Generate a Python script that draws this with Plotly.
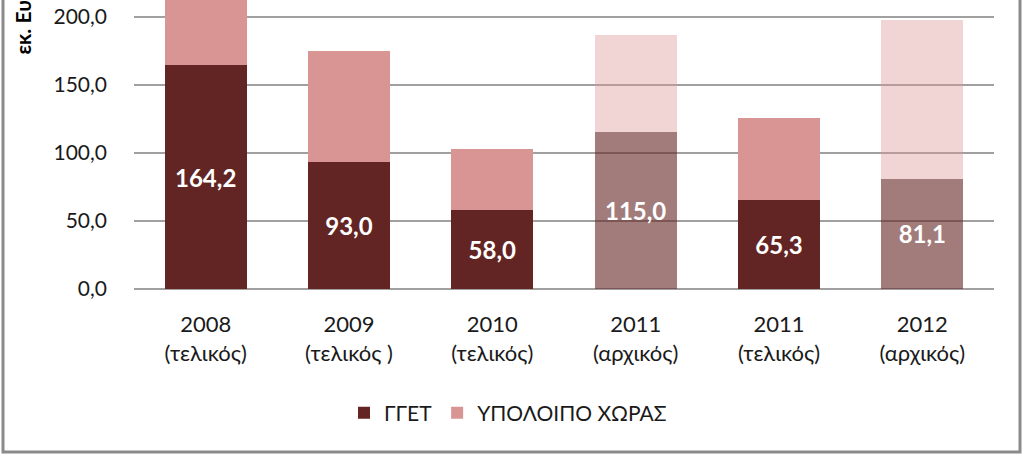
import plotly.graph_objects as go

categories = ["2008<br>(τελικός)", "2009<br>(τελικός )", "2010<br>(τελικός)",
              "2011<br>(αρχικός)", "2011<br>(τελικός)", "2012<br>(αρχικός)"]
gget = [164.2, 93.0, 58.0, 115.0, 65.3, 81.1]
rest = [70.0, 82.0, 45.0, 71.3, 60.6, 116.3]
initial = [False, False, False, True, False, True]  # "αρχικός" bars are faded
series_names = ["ΓΓΕΤ", "ΥΠΟΛΟΙΠΟ ΧΩΡΑΣ"]
y_ticks = [0, 50, 100, 150, 200]
y_title = "εκ. Ευρώ"

FONT = "Lato, 'Open Sans', sans-serif"
c_gget = ["rgba(99,37,35,0.6)" if f else "rgb(99,37,35)" for f in initial]
c_rest = ["rgba(217,149,148,0.4)" if f else "rgb(217,149,148)" for f in initial]

fig = go.Figure()
fig.add_trace(go.Bar(
    x=categories, y=gget, name=series_names[0],
    marker=dict(color=c_gget, line=dict(width=0)),
    texttemplate="%{y:.1f}", textposition="inside", insidetextanchor="middle",
    textfont=dict(family=FONT, size=24, color="white", weight="bold"),
    textangle=0,
))
fig.add_trace(go.Bar(
    x=categories, y=rest, name=series_names[1],
    marker=dict(color=c_rest, line=dict(width=0)),
    hoverinfo="y",
))

L, R, T, B = 134, 30, 0, 167
W, H = 1024, 456
pw = W - L - R
ph = H - T - B

def px_x(p):
    return (p - L) / pw

def px_y(p):
    return (H - B - p) / ph

fig.update_layout(
    barmode="stack", bargap=0.43,
    width=W, height=H,
    margin=dict(l=L, r=R, t=T, b=B, pad=0, autoexpand=False),
    paper_bgcolor="white", plot_bgcolor="white",
    separators=",.",
    font=dict(family=FONT, color="#1a1a1a", size=20),
    showlegend=True,
    legend=dict(orientation="h", x=px_x(508), xanchor="center", y=px_y(413), yanchor="middle",
                font=dict(family=FONT, size=21, color="#1a1a1a"), traceorder="normal",
                itemwidth=30),
    xaxis=dict(showgrid=False, showline=False, ticks="", ticklabelstandoff=20,
               automargin=False,
               tickfont=dict(family=FONT, size=22, color="#1a1a1a"), fixedrange=True),
    yaxis=dict(range=[0, ph / 1.362], tickvals=y_ticks, tickformat=".1f",
               automargin=False,
               showgrid=True, gridcolor="#a0a0a0", gridwidth=2,
               zeroline=True, zerolinecolor="#a0a0a0", zerolinewidth=2,
               showline=False, ticks="", ticklabelstandoff=26,
               tickfont=dict(family=FONT, size=21, color="#1a1a1a")),
    annotations=[dict(text="<b>" + y_title + "</b>", textangle=-90, showarrow=False,
                      xref="paper", yref="paper", x=px_x(22), y=px_y(57),
                      xanchor="center", yanchor="bottom",
                      font=dict(family=FONT, size=21, color="black"))],
    shapes=[dict(type="rect", xref="paper", yref="paper",
                 x0=px_x(3), x1=px_x(1020), y0=px_y(452), y1=1.2,
                 line=dict(color="#8a8a8a", width=3), layer="below")],
)

fig.write_html("out.html", config={"displayModeBar": False},
               post_script="document.body.style.margin='0';")
